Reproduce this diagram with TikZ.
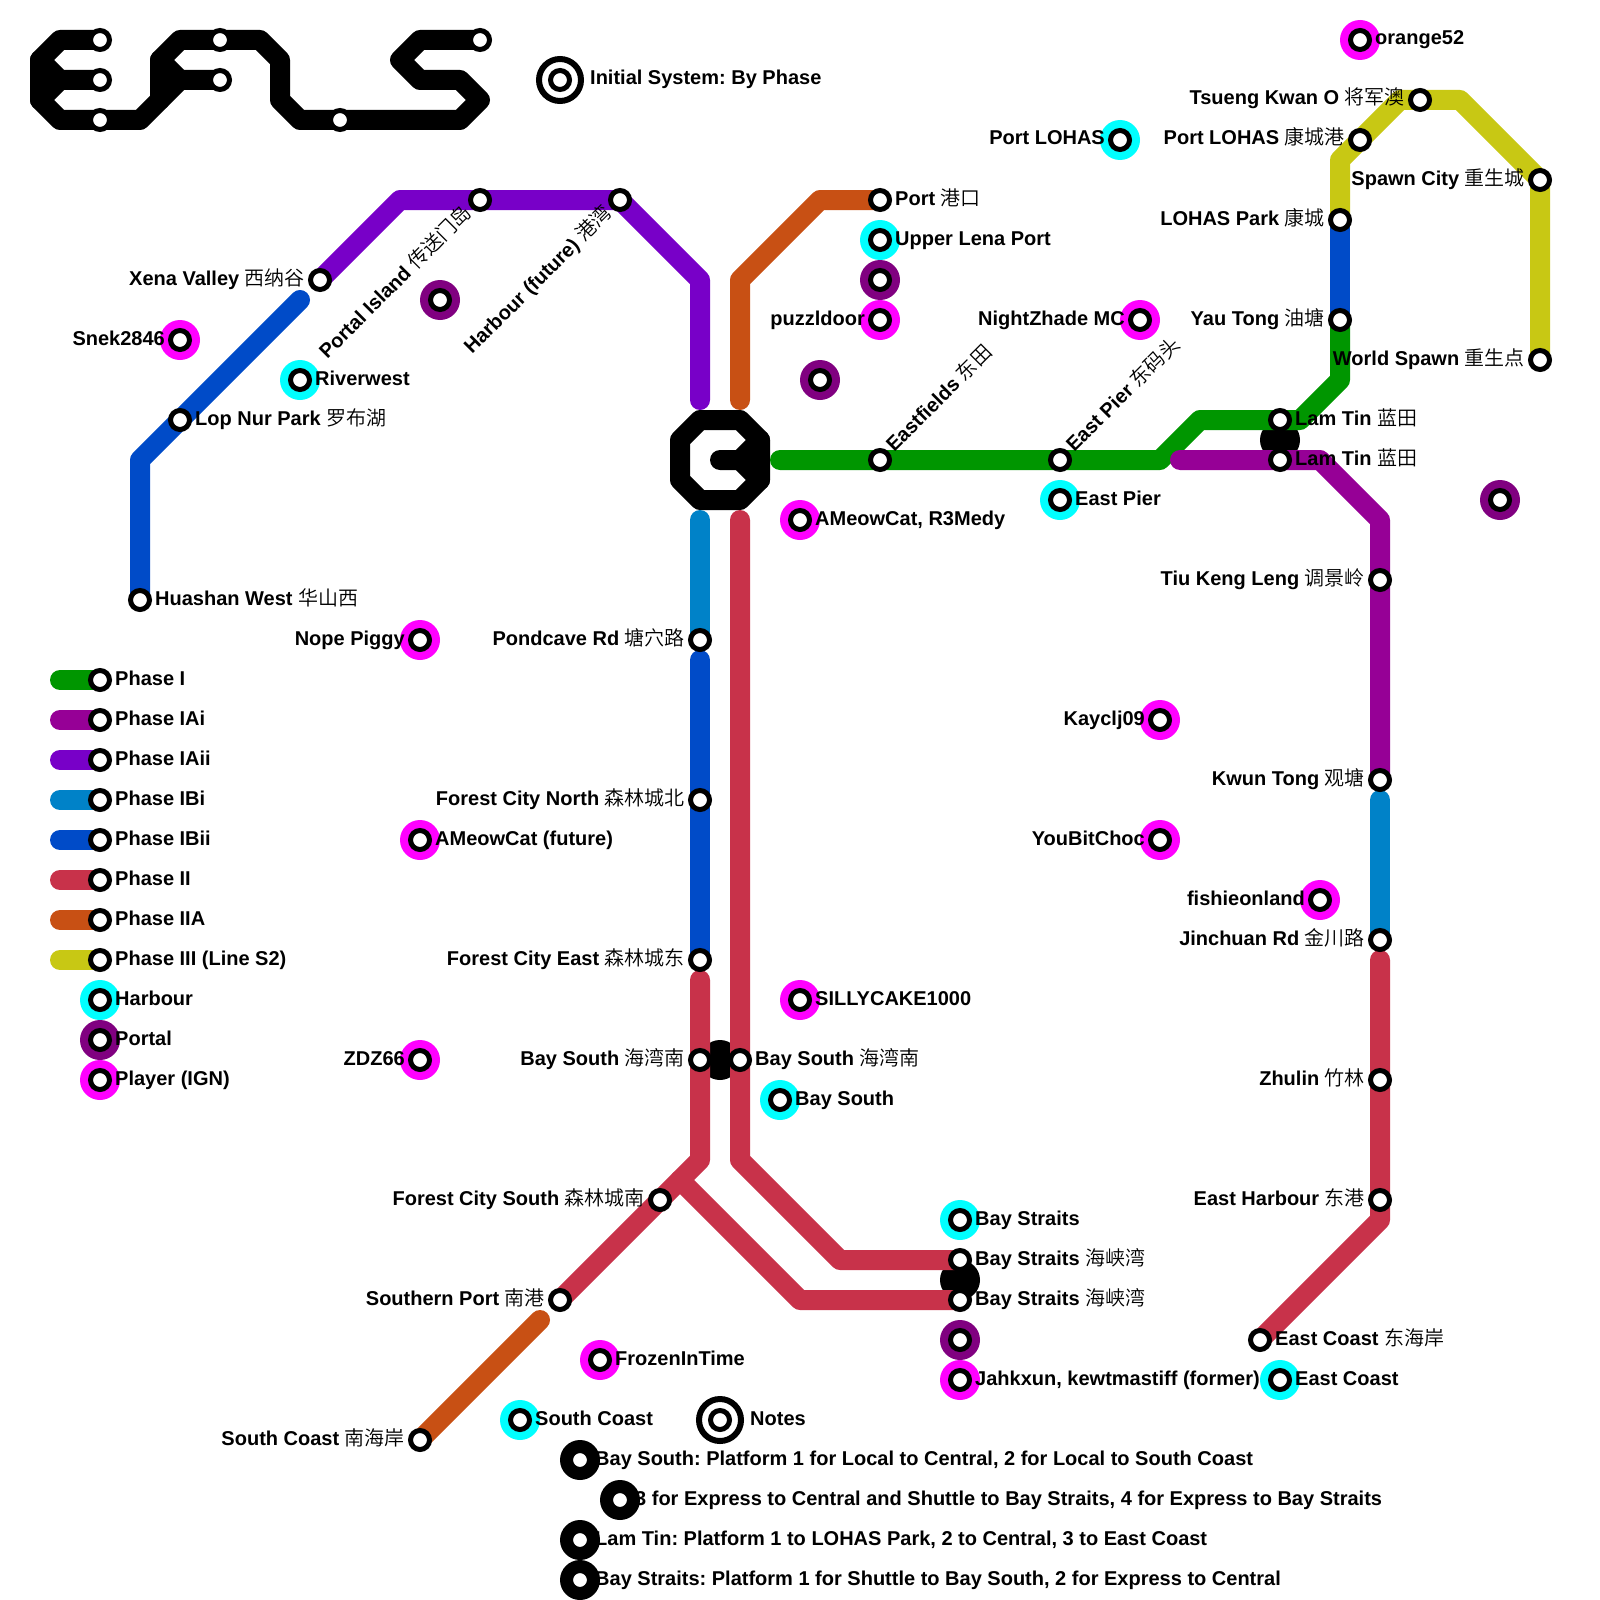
\documentclass[tikz,border=0pt]{standalone}
\usepackage{fontspec}
\setmainfont{Liberation Sans}
\newfontfamily\cjkfam{Noto Sans CJK SC DemiLight}
\newcommand\cn[1]{{\cjkfam\mdseries #1}}
\definecolor{cI}{HTML}{009600}
\definecolor{cIAi}{HTML}{960096}
\definecolor{cIAii}{HTML}{7800C8}
\definecolor{cIBi}{HTML}{0082C8}
\definecolor{cIBii}{HTML}{004BC8}
\definecolor{cII}{HTML}{C8324A}
\definecolor{cIIA}{HTML}{C85014}
\definecolor{cIII}{HTML}{C8C814}
\definecolor{cHarbour}{HTML}{00FFFF}
\definecolor{cPlayer}{HTML}{FF00FF}
\definecolor{cPortal}{HTML}{800080}
\pgfdeclarelayer{blobs}
\pgfdeclarelayer{lines}
\pgfsetlayers{blobs,lines,main}
\tikzset{
  stnring/.style={circle,draw=black,fill=white,line width=5pt,minimum size=19pt,inner sep=0pt},
  halo/.style={circle,fill=#1,minimum size=40pt,inner sep=0pt},
  bigring/.style={circle,draw=black,fill=white,line width=6pt,minimum size=42pt,inner sep=0pt},
  metro/.style={line width=20pt,line cap=round,line join=round,draw=#1},
  lbl/.style={inner sep=0pt,font=\fontsize{20}{24}\selectfont\bfseries\frenchspacing,text=black},
}
\newcommand\stn[3]{\node[stnring] (#1) at (#2,#3) {};}
\newcommand\ichg[4]{\node[halo=#4] (#1H) at (#2,#3) {};\node[stnring] (#1) at (#2,#3) {};}
\newcommand\initc[3]{\node[bigring] (#1O) at (#2,#3) {};\node[stnring] (#1) at (#2,#3) {};}
\newcommand\lR[2]{\node[lbl,anchor=base west] (#1L) at ([shift={(15,5)}]#1.center) {#2};}
\newcommand\lL[2]{\node[lbl,anchor=base east] (#1L) at ([shift={(-15,5)}]#1.center) {#2};}
\newcommand\lRr[2]{\node[lbl,anchor=base west,rotate=45] (#1L) at ([shift={(14.1,-7.07)}]#1.center) {#2};}
\newcommand\lLr[2]{\node[lbl,anchor=base east,rotate=45] (#1L) at ([shift={(-7.07,14.1)}]#1.center) {#2};}
\begin{document}
\begin{tikzpicture}[x=1pt,y=-1pt]
\useasboundingbox (0,0) rectangle (1600,1600);
\begin{pgfonlayer}{blobs}
\fill[white] (0,0) rectangle (1600,1600);
\node[halo=black] (blobLam) at (1280,440) {};
\node[halo=black] (blobBay) at (720,1060) {};
\node[halo=black] (blobStr) at (960,1280) {};
\end{pgfonlayer}
% logo stations
\stn{la}{100}{40}\stn{lb}{100}{80}\stn{lc}{100}{120}\stn{ld}{220}{40}\stn{le}{220}{80}\stn{lf}{340}{120}\stn{lg}{480}{40}
% line stations
\stn{Port}{880}{200}\stn{PortalI}{480}{200}\stn{HarbF}{620}{200}\stn{Xena}{320}{280}
\stn{LopNur}{180}{420}\stn{Huashan}{140}{600}
\stn{Eastf}{880}{460}\stn{EPierS}{1060}{460}\stn{LamA}{1280}{420}\stn{LamB}{1280}{460}
\stn{YauTong}{1340}{320}\stn{LohasP}{1340}{220}\stn{PLohas}{1360}{140}\stn{Tko}{1420}{100}
\stn{Spawn}{1540}{180}\stn{World}{1540}{360}
\stn{Tiu}{1380}{580}\stn{Kwun}{1380}{780}\stn{Jinchuan}{1380}{940}\stn{Zhulin}{1380}{1080}\stn{EHarb}{1380}{1200}\stn{ECoast}{1260}{1340}
\stn{Pond}{700}{640}\stn{FcN}{700}{800}\stn{FcE}{700}{960}\stn{BayA}{700}{1060}\stn{BayB}{740}{1060}
\stn{FcS}{660}{1200}\stn{SPort}{560}{1300}\stn{SCoast}{420}{1440}\stn{StrA}{960}{1260}\stn{StrB}{960}{1300}
% legend
\stn{legA}{100}{680}\stn{legB}{100}{720}\stn{legC}{100}{760}\stn{legD}{100}{800}\stn{legE}{100}{840}\stn{legF}{100}{880}\stn{legG}{100}{920}\stn{legH}{100}{960}
\ichg{legHarb}{100}{1000}{cHarbour}\ichg{legPortal}{100}{1040}{cPortal}\ichg{legPlayer}{100}{1080}{cPlayer}
% harbours
\ichg{xRiver}{300}{380}{cHarbour}\ichg{xLohas}{1120}{140}{cHarbour}\ichg{xLena}{880}{240}{cHarbour}\ichg{xEPier}{1060}{500}{cHarbour}
\ichg{xBayS}{780}{1100}{cHarbour}\ichg{xStr}{960}{1220}{cHarbour}\ichg{xECoast}{1280}{1380}{cHarbour}\ichg{xSCoast}{520}{1420}{cHarbour}
% players
\ichg{pOrange}{1360}{40}{cPlayer}\ichg{pSnek}{180}{340}{cPlayer}\ichg{pPuzz}{880}{320}{cPlayer}\ichg{pNight}{1140}{320}{cPlayer}
\ichg{pMeow}{800}{520}{cPlayer}\ichg{pNope}{420}{640}{cPlayer}\ichg{pKay}{1160}{720}{cPlayer}\ichg{pMeowF}{420}{840}{cPlayer}
\ichg{pYou}{1160}{840}{cPlayer}\ichg{pFish}{1320}{900}{cPlayer}\ichg{pSilly}{800}{1000}{cPlayer}\ichg{pZdz}{420}{1060}{cPlayer}
\ichg{pFrozen}{600}{1360}{cPlayer}\ichg{pJah}{960}{1380}{cPlayer}
% portals
\ichg{gA}{440}{300}{cPortal}\ichg{gB}{880}{280}{cPortal}\ichg{gC}{820}{380}{cPortal}\ichg{gD}{1500}{500}{cPortal}\ichg{gE}{960}{1340}{cPortal}
% titles
\initc{Init}{560}{80}\initc{Notes}{720}{1420}
% bends
\foreach \n/\x/\y in {
 ea/60/40,eb/40/60,ec/40/100,ed/60/120,ee/60/80,ef/140/120,eg/180/80,eh/160/60,ei/180/40,ej/160/100,
 ek/260/40,el/280/60,em/280/100,en/300/120,eo/460/120,ep/480/100,eq/460/80,er/420/80,es/400/60,et/420/40,
 ha/700/420,hb/740/420,hc/760/440,hd/760/480,he/740/500,hf/700/500,hg/680/480,hh/680/440,hi/720/460,hj/740/460,
 ga/780/460,gb/1160/460,gc/1200/420,gd/1300/420,ge/1340/380,
 pa/1180/460,pb/1320/460,pc/1380/520,
 va/400/200,vb/700/280,vc/700/400,
 ba/700/520,bb/1380/800,
 da/300/300,db/140/460,dc/700/660,
 ra/700/980,rb/700/1160,rc/740/520,rd/740/1160,re/840/1260,rf/680/1180,rg/800/1300,rh/1380/960,ri/1380/1220,
 oa/740/400,ob/740/280,oc/820/200,od/540/1320,
 ya/1340/160,yb/1400/100,yc/1460/100,yd/1540/180,
 ka/60/680,kb/60/720,kc/60/760,kd/60/800,ke/60/840,kf/60/880,kg/60/920,kh/60/960}
 {\coordinate (\n) at (\x,\y);}
\begin{pgfonlayer}{lines}
% logo
\draw[metro=black] (la.center) -- (ea) -- (eb) -- (ec) -- (ed) -- (ef) -- (eg) -- (le.center);
\draw[metro=black] (lb.center) -- (ee) -- (eb);
\draw[metro=black] (ee) -- (ec);
\draw[metro=black] (eg) -- (eh) -- (ei) -- (ek) -- (el) -- (em) -- (en) -- (eo) -- (ep) -- (eq) -- (er) -- (es) -- (et) -- (lg.center);
\draw[metro=black] (eh) -- (ej);
% hub
\draw[metro=black] (ha) -- (hb) -- (hc) -- (hd) -- (he) -- (hf) -- (hg) -- (hh) -- cycle;
\draw[metro=black] (hi) -- (hj) -- (hc);
\draw[metro=black] (hj) -- (hd);
% lines
\draw[metro=cI] (ga) -- (gb) -- (gc) -- (gd) -- (ge) -- (YauTong.center);
\draw[metro=cIAi] (pa) -- (pb) -- (pc) -- (Kwun.center);
\draw[metro=cIAii] (Xena.center) -- (va) -- (HarbF.center) -- (vb) -- (vc);
\draw[metro=cIBi] (ba) -- (Pond.center);
\draw[metro=cIBi] (bb) -- (Jinchuan.center);
\draw[metro=cIBii] (da) -- (db) -- (Huashan.center);
\draw[metro=cIBii] (dc) -- (FcE.center);
\draw[metro=cIBii] (LohasP.center) -- (YauTong.center);
\draw[metro=cII] (ra) -- (rb) -- (SPort.center);
\draw[metro=cII] (rc) -- (rd) -- (re) -- (StrA.center);
\draw[metro=cII] (rf) -- (rg) -- (StrB.center);
\draw[metro=cII] (rh) -- (ri) -- (ECoast.center);
\draw[metro=cIIA] (oa) -- (ob) -- (oc) -- (Port.center);
\draw[metro=cIIA] (od) -- (SCoast.center);
\draw[metro=cIII] (LohasP.center) -- (ya) -- (yb) -- (yc) -- (yd) -- (World.center);
% legend
\draw[metro=cI] (ka) -- (legA.center);
\draw[metro=cIAi] (kb) -- (legB.center);
\draw[metro=cIAii] (kc) -- (legC.center);
\draw[metro=cIBi] (kd) -- (legD.center);
\draw[metro=cIBii] (ke) -- (legE.center);
\draw[metro=cII] (kf) -- (legF.center);
\draw[metro=cIIA] (kg) -- (legG.center);
\draw[metro=cIII] (kh) -- (legH.center);
\end{pgfonlayer}
% labels
\node[lbl,anchor=base west] (InitL) at ([shift={(30,5)}]Init.center) {Initial System: By Phase};
\node[lbl,anchor=base west] (NotesL) at ([shift={(30,5)}]Notes.center) {Notes};
\lR{pOrange}{orange52}
\lL{Tko}{Tsueng Kwan O \cn{将军澳}}
\lL{xLohas}{Port LOHAS}
\lL{PLohas}{Port LOHAS \cn{康城港}}
\lL{Spawn}{Spawn City \cn{重生城}}
\lR{Port}{Port \cn{港口}}
\lR{xLena}{Upper Lena Port}
\lL{LohasP}{LOHAS Park \cn{康城}}
\lL{Xena}{Xena Valley \cn{西纳谷}}
\lL{YauTong}{Yau Tong \cn{油塘}}
\lL{pNight}{NightZhade MC}
\lL{pPuzz}{puzzldoor}
\lL{pSnek}{Snek2846}
\lL{World}{World Spawn \cn{重生点}}
\lR{xRiver}{Riverwest}
\lR{LopNur}{Lop Nur Park \cn{罗布湖}}
\lR{LamA}{Lam Tin \cn{蓝田}}
\lR{LamB}{Lam Tin \cn{蓝田}}
\lR{xEPier}{East Pier}
\lR{pMeow}{AMeowCat, R3Medy}
\lR{Huashan}{Huashan West \cn{华山西}}
\lL{Tiu}{Tiu Keng Leng \cn{调景岭}}
\lL{pNope}{Nope Piggy}
\lL{Pond}{Pondcave Rd \cn{塘穴路}}
\lL{pKay}{Kayclj09}
\lL{FcN}{Forest City North \cn{森林城北}}
\lL{Kwun}{Kwun Tong \cn{观塘}}
\lL{pYou}{YouBitChoc}
\lR{pMeowF}{AMeowCat (future)}
\lL{pFish}{fishieonland}
\lL{Jinchuan}{Jinchuan Rd \cn{金川路}}
\lL{FcE}{Forest City East \cn{森林城东}}
\lR{pSilly}{SILLYCAKE1000}
\lL{BayA}{Bay South \cn{海湾南}}
\lR{BayB}{Bay South \cn{海湾南}}
\lL{pZdz}{ZDZ66}
\lR{xBayS}{Bay South}
\lL{Zhulin}{Zhulin \cn{竹林}}
\lL{EHarb}{East Harbour \cn{东港}}
\lL{FcS}{Forest City South \cn{森林城南}}
\lR{xStr}{Bay Straits}
\lR{StrA}{Bay Straits \cn{海峡湾}}
\lR{StrB}{Bay Straits \cn{海峡湾}}
\lL{SPort}{Southern Port \cn{南港}}
\lR{ECoast}{East Coast \cn{东海岸}}
\lR{xECoast}{East Coast}
\lR{pJah}{Jahkxun, kewtmastiff (former)}
\lR{pFrozen}{FrozenInTime}
\lR{xSCoast}{South Coast}
\lL{SCoast}{South Coast \cn{南海岸}}
\lRr{Eastf}{Eastfields \cn{东田}}
\lRr{EPierS}{East Pier \cn{东码头}}
\lLr{PortalI}{Portal Island \cn{传送门岛}}
\lLr{HarbF}{Harbour (future) \cn{港湾}}
\lR{legA}{Phase I}\lR{legB}{Phase IAi}\lR{legC}{Phase IAii}\lR{legD}{Phase IBi}
\lR{legE}{Phase IBii}\lR{legF}{Phase II}\lR{legG}{Phase IIA}\lR{legH}{Phase III (Line S2)}
\lR{legHarb}{Harbour}\lR{legPortal}{Portal}\lR{legPlayer}{Player (IGN)}
% notes
\coordinate (nA) at (580,1460);\coordinate (nB) at (620,1500);\coordinate (nC) at (580,1540);\coordinate (nD) at (580,1580);
\node[lbl,anchor=base west] (nAL) at ([shift={(15,5)}]nA) {Bay South: Platform 1 for Local to Central, 2 for Local to South Coast};
\node[lbl,anchor=base west] (nBL) at ([shift={(15,5)}]nB) {3 for Express to Central and Shuttle to Bay Straits, 4 for Express to Bay Straits};
\node[lbl,anchor=base west] (nCL) at ([shift={(15,5)}]nC) {Lam Tin: Platform 1 to LOHAS Park, 2 to Central, 3 to East Coast};
\node[lbl,anchor=base west] (nDL) at ([shift={(15,5)}]nD) {Bay Straits: Platform 1 for Shuttle to Bay South, 2 for Express to Central};
\ichg{nAs}{580}{1460}{black}\ichg{nBs}{620}{1500}{black}\ichg{nCs}{580}{1540}{black}\ichg{nDs}{580}{1580}{black}
\end{tikzpicture}
\end{document}
